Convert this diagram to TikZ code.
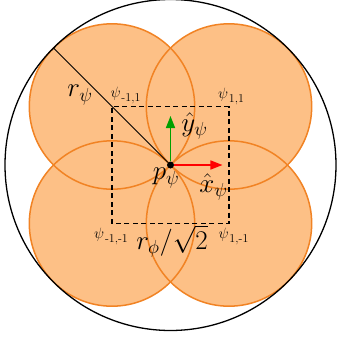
\RequirePackage{fix-cm}
\documentclass[tikz,border=0pt]{standalone}
\usepackage{amsmath}
\usepackage{tikz}
\usetikzlibrary{positioning, arrows.meta}
\definecolor{discfill}{RGB}{253,192,134}
\definecolor{discedge}{RGB}{241,131,36}
\definecolor{axisgreen}{RGB}{0,160,0}
\newcommand{\psilbl}[1]{$\psi$\kern0.8pt\raisebox{-4pt}{\fontsize{12}{13}\selectfont #1}}

\begin{document}
\begin{tikzpicture}[
        x=1pt, y=1pt,
        disc/.style={fill=discfill},
        rim/.style={draw=discedge, line width=1.5pt},
        biglabel/.style={font=\fontsize{27}{30}\selectfont, inner sep=0pt},
        smalllabel/.style={font=\fontsize{15}{18}\selectfont, inner sep=0pt},
        axis/.style={-{Triangle[length=12pt, width=9pt]}, line width=1.5pt},
        dot/.style={circle, fill=black, inner sep=0pt, minimum size=7pt},
        cell/.style={draw, line width=1.3pt, dash pattern=on 5pt off 3.5pt}
    ]
    \useasboundingbox (-170.5,-176) rectangle (168.5,165);

    % Corners
    \coordinate (q11) at (58.5,58.5);
    \coordinate (qm11) at (-58.5,58.5);
    \coordinate (qm1m1) at (-58.5,-58.5);
    \coordinate (q1m1) at (58.5,-58.5);

    % Discs
    \fill [disc] (q11) circle (82.7);
    \fill [disc] (qm11) circle (82.7);
    \fill [disc] (qm1m1) circle (82.7);
    \fill [disc] (q1m1) circle (82.7);
    \draw [rim] (q11) circle (82.7);
    \draw [rim] (qm11) circle (82.7);
    \draw [rim] (qm1m1) circle (82.7);
    \draw [rim] (q1m1) circle (82.7);

    \draw [line width=1.3pt] (0,0) circle (165.5);
    \draw [cell] (qm1m1) rectangle (q11);

    % Nodes
    \node (p) [dot] at (0,0) {};
    \coordinate (rend) at (135:165.5);
    \coordinate (xtip) at (52,0);
    \coordinate (ytip) at (0,49);

    \node (rpsi) [biglabel] at (-90.5,70) {$r_\psi$};
    \node (lblm11) [smalllabel] at (-45,70) {\psilbl{-1,1}};
    \node (lbl11) [smalllabel] at (60.5,69) {\psilbl{1,1}};
    \node (yhat) [biglabel] at (24,39) {$\hat{y}_\psi$};
    \node (ppsi) [biglabel] at (-4.5,-13) {$p_\psi$};
    \node (xhat) [biglabel] at (43,-22) {$\hat{x}_\psi$};
    \node (lblm1m1) [smalllabel] at (-59.5,-71) {\psilbl{-1,-1}};
    \node (rphi) [biglabel] at (1.5,-76) {$r_\phi/\sqrt{2}$};
    \node (lbl1m1) [smalllabel] at (63,-71) {\psilbl{1,-1}};

    % Arrows
    \draw [{Bar[width=6pt]}-, line width=0.8pt] (rend) -- (p);
    \draw [axis, red] (p) -- (xtip);
    \draw [axis, axisgreen] (p) -- (ytip);

\end{tikzpicture}
\end{document}
